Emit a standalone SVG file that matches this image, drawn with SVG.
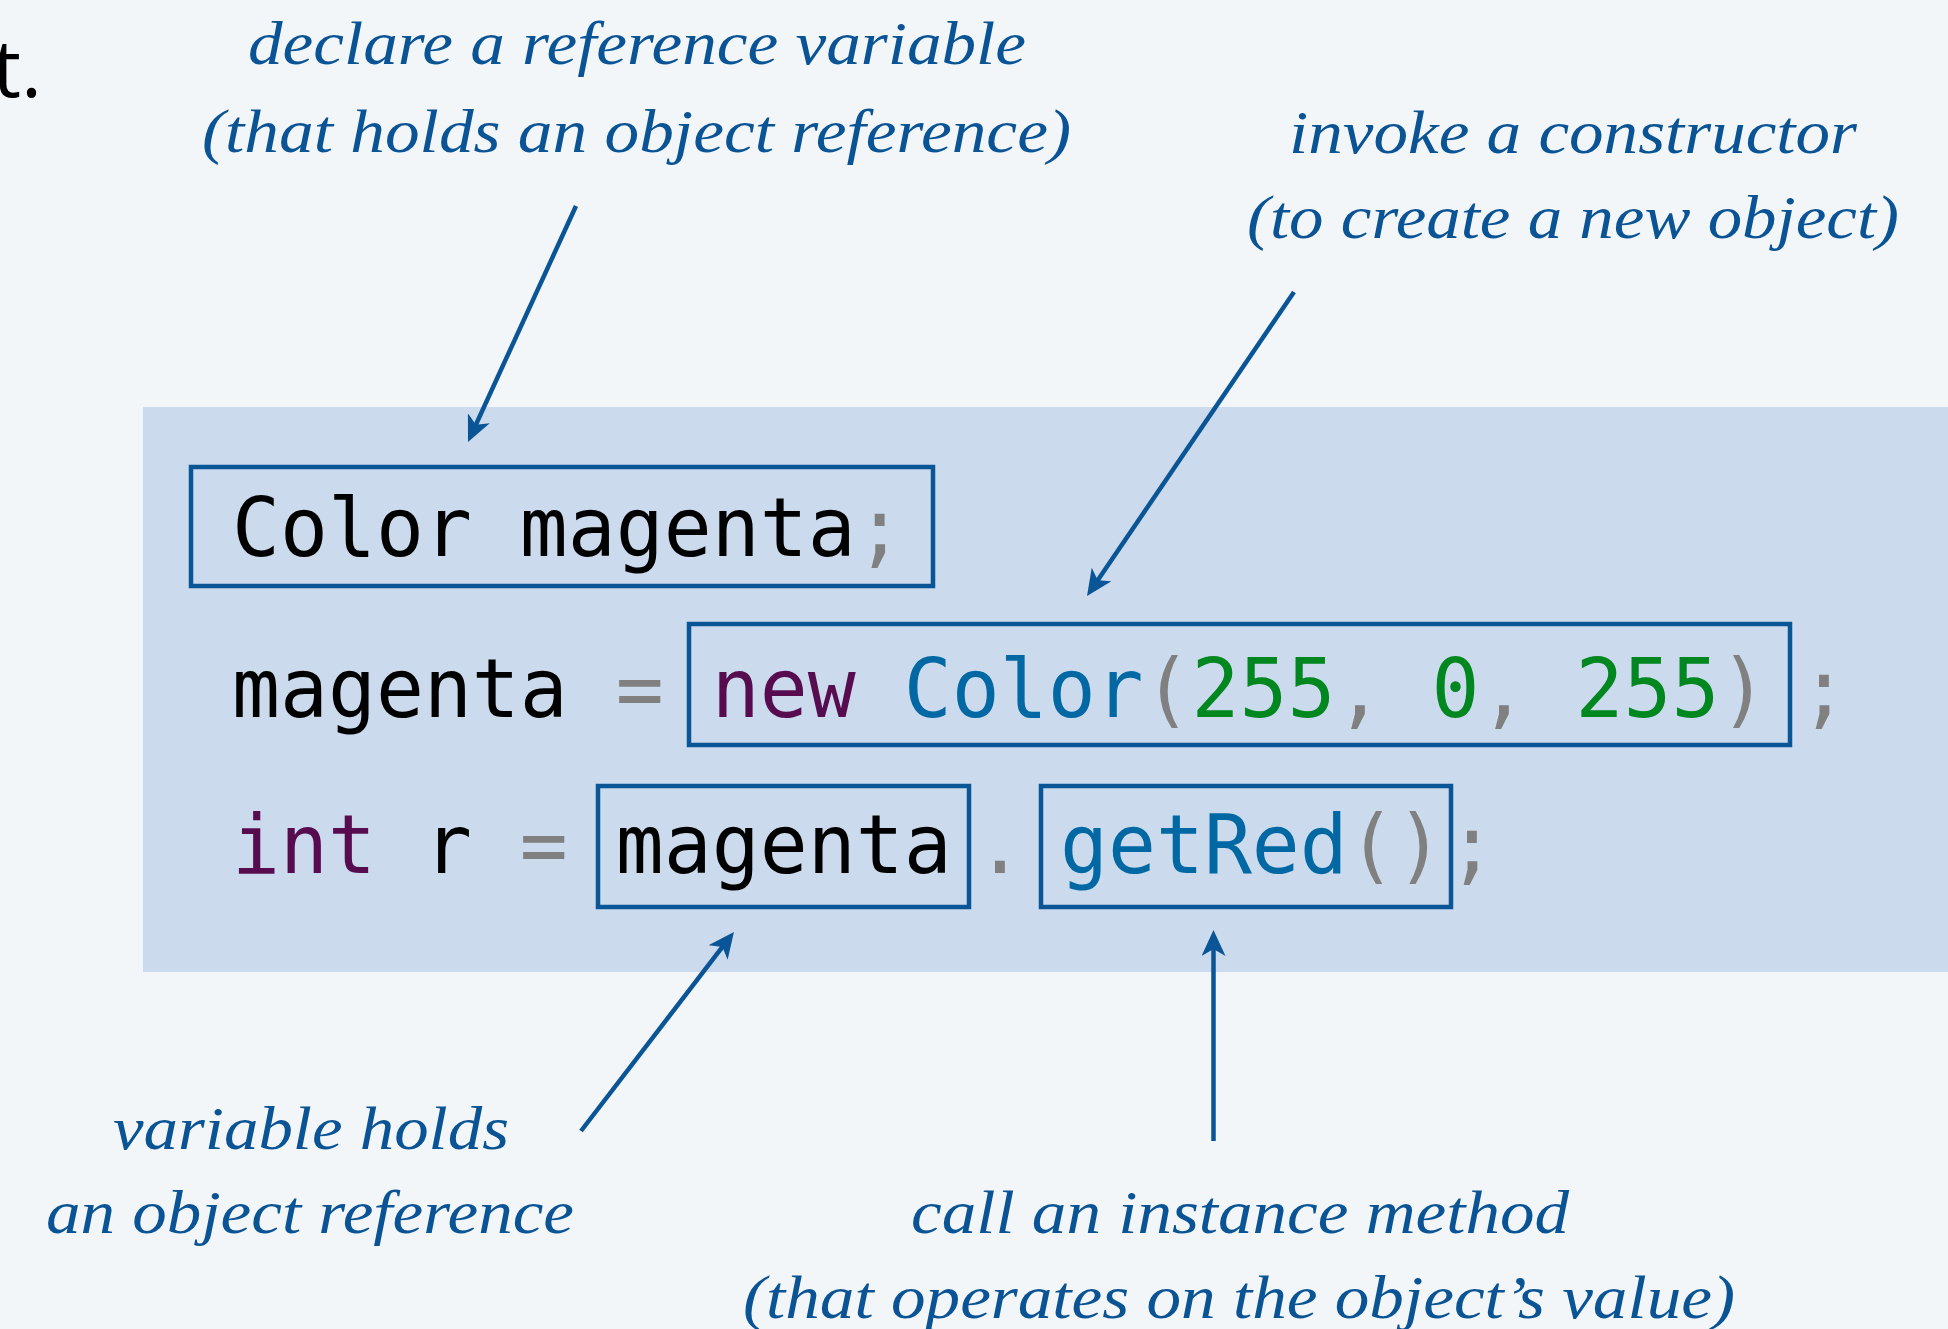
<svg xmlns="http://www.w3.org/2000/svg" width="1948" height="1329" viewBox="0 0 1948 1329">
<style>
.code{font-family:"DejaVu Sans Mono","Liberation Mono",monospace;font-size:82px;white-space:pre}
.k{fill:#000}
.p{fill:#808080}
.kw{fill:#570c4f}
.ty{fill:#0168a3}
.num{fill:#00871f}
.note{font-family:"Liberation Serif","Times New Roman",serif;font-style:italic;font-size:62px;fill:#0a5394}
.box{fill:none;stroke:#0a5596;stroke-width:4.5}
.arrow{stroke:#0a5596;stroke-width:4.5;fill:none;marker-end:url(#ah)}
</style>
<defs>
<marker id="ah" markerUnits="userSpaceOnUse" viewBox="0 0 26 24" markerWidth="26" markerHeight="24" refX="20" refY="12" orient="auto">
<path d="M26,12 L0,0 L7,12 L0,24 Z" fill="#0a5596"/>
</marker>
</defs>
<rect x="0" y="0" width="1948" height="1329" fill="#f2f6f9"/>
<text x="42" y="97" text-anchor="end" font-family="'Open Sans','Noto Sans',sans-serif" font-size="80" fill="#000">t.</text>
<rect id="panel" x="143" y="407" width="1805" height="565" fill="#cbdaec"/>

<g id="code-line1">
<rect class="box" x="191" y="467" width="742" height="119"/>
<text class="code k" transform="translate(232,556) scale(0.9719,1)" x="0" y="0">Color magenta<tspan class="p">;</tspan></text>
</g>

<g id="code-line2">
<rect class="box" x="689" y="624" width="1101" height="121"/>
<text class="code k" transform="translate(232,717) scale(0.9719,1)" x="0" y="0">magenta <tspan class="p">=</tspan> <tspan class="kw">new</tspan> <tspan class="ty">Color</tspan><tspan class="p">(</tspan><tspan class="num">255</tspan><tspan class="p">,</tspan> <tspan class="num">0</tspan><tspan class="p">,</tspan> <tspan class="num">255</tspan><tspan class="p">)</tspan><tspan class="p" x="1613.3">;</tspan></text>
</g>

<g id="code-line3">
<rect class="box" x="598" y="786" width="371" height="121"/>
<rect class="box" x="1041" y="786" width="410" height="121"/>
<text class="code k" transform="translate(232,873) scale(0.9719,1)" x="0" y="0"><tspan class="kw">int</tspan> r <tspan class="p">=</tspan> magenta<tspan class="p" x="765.5">.</tspan><tspan class="ty" x="851.9">getRed</tspan><tspan class="p">()</tspan><tspan class="p" x="1251.2">;</tspan></text>
</g>

<g id="note-declare">
<text class="note" x="248" y="64" textLength="778" lengthAdjust="spacingAndGlyphs">declare a reference variable</text>
<text class="note" x="202" y="152" textLength="869" lengthAdjust="spacingAndGlyphs">(that holds an object reference)</text>
</g>
<g id="note-constructor">
<text class="note" x="1289" y="153" textLength="568" lengthAdjust="spacingAndGlyphs">invoke a constructor</text>
<text class="note" x="1247" y="238" textLength="652" lengthAdjust="spacingAndGlyphs">(to create a new object)</text>
</g>
<g id="note-variable">
<text class="note" x="113" y="1149" textLength="396" lengthAdjust="spacingAndGlyphs">variable holds</text>
<text class="note" x="46" y="1233" textLength="528" lengthAdjust="spacingAndGlyphs">an object reference</text>
</g>
<g id="note-method">
<text class="note" x="911" y="1233" textLength="658" lengthAdjust="spacingAndGlyphs">call an instance method</text>
<text class="note" x="743" y="1318" textLength="992" lengthAdjust="spacingAndGlyphs">(that operates on the object’s value)</text>
</g>

<g id="connectors">
<line class="arrow" x1="576" y1="206" x2="470.5" y2="436.5"/>
<line class="arrow" x1="1294" y1="292" x2="1090.4" y2="591"/>
<line class="arrow" x1="581" y1="1131" x2="730.3" y2="936.7"/>
<line class="arrow" x1="1213.5" y1="1141" x2="1213.5" y2="936"/>
</g>
</svg>
